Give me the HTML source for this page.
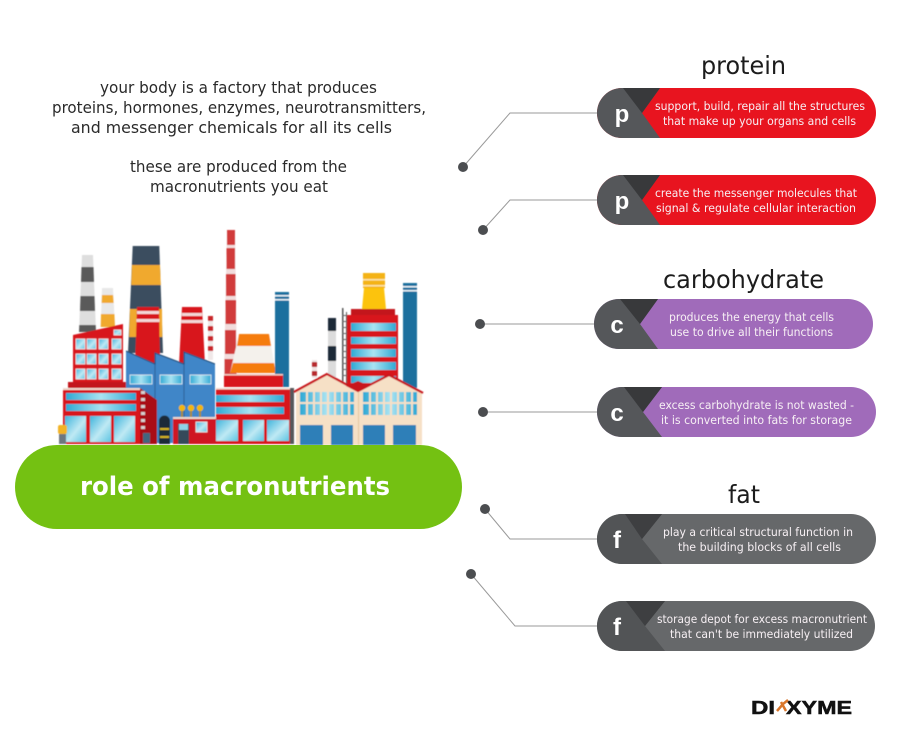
<!DOCTYPE html>
<html><head><meta charset="utf-8"><style>
html,body{margin:0;padding:0;background:#fff;width:900px;height:743px;overflow:hidden}
svg{display:block;font-family:"DejaVu Sans","Liberation Sans",sans-serif}
.h{font-size:16px;fill:#2a2a2a;text-anchor:start}
.t{font-size:11.5px;fill:#f7f0f4}
.l{font-family:"Liberation Sans",sans-serif;font-weight:bold;font-size:24px;fill:#fff}
.h2{font-size:25px;fill:#1c1c1c}
</style></head><body>
<svg width="900" height="743" viewBox="0 0 900 743" xmlns="http://www.w3.org/2000/svg">
<defs>
<linearGradient id="w" x1="0" y1="0" x2="1" y2="1"><stop offset="0" stop-color="#3fb4dc"/><stop offset=".55" stop-color="#bfe9f4"/><stop offset="1" stop-color="#5cc4e2"/></linearGradient>
<linearGradient id="s" x1="0" y1="0" x2="1" y2="0"><stop offset="0" stop-color="#2fa9d4"/><stop offset=".5" stop-color="#a9e3f2"/><stop offset="1" stop-color="#2fa9d4"/></linearGradient>
<filter id="b" x="-5%" y="-5%" width="110%" height="110%"><feGaussianBlur stdDeviation="0.4"/></filter>
</defs>

<!-- intro text -->
<text class="h" x="100" y="93" textLength="277" lengthAdjust="spacingAndGlyphs">your body is a factory that produces</text>
<text class="h" x="52" y="113" textLength="374" lengthAdjust="spacingAndGlyphs">proteins, hormones, enzymes, neurotransmitters,</text>
<text class="h" x="71" y="133" textLength="321" lengthAdjust="spacingAndGlyphs">and messenger chemicals for all its cells</text>
<text class="h" x="130" y="172" textLength="217" lengthAdjust="spacingAndGlyphs">these are produced from the</text>
<text class="h" x="150" y="192" textLength="178" lengthAdjust="spacingAndGlyphs">macronutrients you eat</text>

<!-- factory -->
<g filter="url(#b)">
<!-- gray chimney -->
<polygon points="82,255 93,255 96,332 79,332" fill="#dedede"/>
<polygon points="81.5,267 93.500,267 94,282 81,282" fill="#5a5a5a"/>
<polygon points="80.5,296 94.5,296 95,311 80,311" fill="#5a5a5a"/>
<polygon points="79.3,325 95.7,325 96,332 79,332" fill="#5a5a5a"/>
<!-- orange white chimney -->
<polygon points="102,288 113,288 115,327 100.7,327" fill="#e8e8e8"/>
<polygon points="102,295 113,295 113.6,303 101.700,303" fill="#f0a92e"/>
<polygon points="101,314 114.4,314 115,327 100.7,327" fill="#f0a92e"/>
<!-- big chimney -->
<polygon points="132.7,246 159.3,246 163,353 128,353" fill="#3a4d5f"/>
<polygon points="132,265 160,265 160.8,285 131.3,285" fill="#f0a92e"/>
<polygon points="130,309 162,309 162.3,337 129.2,337" fill="#f0a92e"/>
<!-- red chimneys -->
<polygon points="137,307 159,307 160,365 135,365" fill="#d8141f"/>
<rect x="137" y="311" width="22" height="3" fill="#f3d7d7"/><rect x="136.5" y="319" width="23" height="3" fill="#f3d7d7"/>
<polygon points="182,307 202,307 205,365 179,365" fill="#d8141f"/>
<rect x="182" y="313" width="20" height="3" fill="#f3d7d7"/><rect x="181.5" y="320" width="21" height="3" fill="#f3d7d7"/>
<rect x="208" y="316" width="5" height="44" fill="#f0e8e8"/>
<rect x="208" y="316" width="5" height="5" fill="#c9252c"/><rect x="208" y="326" width="5" height="5" fill="#c9252c"/><rect x="208" y="336" width="5" height="5" fill="#c9252c"/><rect x="208" y="346" width="5" height="5" fill="#c9252c"/>
<!-- tall red stack -->
<polygon points="227,230 235,230 237,375 224,375" fill="#f1dcdc"/>
<rect x="227" y="230" width="8" height="15" fill="#d13a3a"/><rect x="226.5" y="248" width="8.5" height="21" fill="#d13a3a"/><rect x="226" y="274" width="9.5" height="22" fill="#d13a3a"/><rect x="225.5" y="300" width="10.5" height="24" fill="#d13a3a"/><rect x="225" y="330" width="11" height="24" fill="#d13a3a"/><rect x="224.5" y="359" width="12" height="16" fill="#d13a3a"/>
<!-- orange cone -->
<polygon points="239,334 269,334 276,373 230,373" fill="#f4f1ec"/>
<polygon points="239,334 269,334 271,346 237,346" fill="#f57c0e"/>
<polygon points="233,363 274,363 276,373 230,373" fill="#f57c0e"/>
<!-- blue stack -->
<rect x="275" y="292" width="14" height="95" fill="#1f6f9e"/>
<rect x="275" y="295" width="14" height="1.5" fill="#e8f3f8"/><rect x="275" y="299" width="14" height="1.5" fill="#e8f3f8"/>
<!-- red top mid -->
<rect x="224" y="374" width="59" height="13" fill="#d8141f"/><rect x="224" y="374" width="59" height="1.5" fill="#f0c9c0"/>
<!-- left red building upper -->
<polygon points="73,335 123,324 123,383 73,383" fill="#d8141f"/>
<g fill="url(#w)" stroke="#f3eaea" stroke-width=".8">
<rect x="76" y="339" width="9" height="10"/><rect x="87" y="339" width="9" height="10"/><rect x="99" y="339" width="9" height="10"/><rect x="112" y="339" width="9" height="10"/>
<rect x="76" y="354" width="9" height="10"/><rect x="87" y="354" width="9" height="10"/><rect x="99" y="354" width="9" height="10"/><rect x="112" y="354" width="9" height="10"/>
<rect x="76" y="369" width="9" height="10"/><rect x="87" y="369" width="9" height="10"/><rect x="99" y="369" width="9" height="10"/><rect x="112" y="369" width="9" height="10"/>
<rect x="114" y="330" width="7" height="5"/>
</g>
<rect x="68" y="382" width="65" height="6" fill="#c3131c"/>
<!-- blue sawtooth -->
<polygon points="126,351 155,364 155,353 184,364 184,352 215,364 215,418 217,443 126,443" fill="#3f86c8"/>
<polyline points="126,351 155,364 155,353 184,364 184,352 215,364" fill="none" stroke="#234d78" stroke-width="1.2"/>
<line x1="155" y1="364" x2="155" y2="443" stroke="#2a5f94" stroke-width="1"/><line x1="184" y1="364" x2="184" y2="420" stroke="#2a5f94" stroke-width="1"/>
<g fill="url(#s)" stroke="#e7eef2" stroke-width=".8"><rect x="130" y="375" width="22" height="9"/><rect x="160" y="375" width="22" height="9"/><rect x="190" y="375" width="21" height="9"/></g>
<!-- lower red left -->
<rect x="63" y="388" width="77" height="56" fill="#d8141f"/>
<rect x="63" y="388" width="77" height="2" fill="#efd9cf"/>
<rect x="66" y="393" width="70" height="7" fill="url(#s)"/><rect x="66" y="404" width="70" height="7" fill="url(#s)"/>
<g fill="url(#w)"><rect x="65" y="416" width="21" height="26"/><rect x="90" y="416" width="21" height="26"/><rect x="114" y="416" width="21" height="26"/></g>
<polygon points="140,388 157,400 157,444 140,444" fill="#a90f17"/>
<g fill="#d7d0d0"><rect x="141" y="391" width="4" height="3"/><rect x="141" y="398" width="4" height="3"/><rect x="141" y="405" width="4" height="3"/><rect x="141" y="412" width="4" height="3"/><rect x="141" y="419" width="4" height="3"/><rect x="141" y="426" width="4" height="3"/></g>
<rect x="143" y="433" width="7" height="10" fill="#43667f"/>
<!-- silo -->
<path d="M159,444V421a5.500,5.500 0 0 1 11,0V444Z" fill="#1f2c38"/><rect x="160" y="428" width="9" height="2" fill="#d4b322"/><rect x="160" y="436" width="9" height="2" fill="#d4b322"/>
<!-- lamp -->
<rect x="58" y="425" width="9" height="9" rx="2" fill="#f2b325"/><rect x="59" y="434" width="7" height="10" fill="#6d7780"/>
<!-- small red building -->
<circle cx="182" cy="408" r="3.200" fill="#f2b70f"/><circle cx="191" cy="408" r="3.200" fill="#f2b70f"/><circle cx="200" cy="408" r="3.200" fill="#f2b70f"/>
<g fill="#a88a20"><rect x="181" y="411" width="2" height="7"/><rect x="190" y="411" width="2" height="7"/><rect x="199" y="411" width="2" height="7"/></g>
<rect x="173" y="418" width="44" height="26" fill="#cf1620"/><rect x="173" y="417" width="44" height="2" fill="#ead9d0"/>
<rect x="178" y="424" width="11" height="20" fill="#36485a"/><rect x="179" y="424" width="9" height="6" fill="#8fd2e8"/>
<rect x="196" y="422" width="11" height="10" fill="url(#w)" stroke="#eee" stroke-width=".8"/>
<!-- right red -->
<rect x="216" y="388" width="76" height="56" fill="#d8141f"/><rect x="216" y="388" width="76" height="1.500" fill="#efd9cf"/>
<rect x="216" y="395" width="68" height="7" fill="url(#s)"/><rect x="216" y="407" width="68" height="7" fill="url(#s)"/>
<g fill="url(#w)"><rect x="216" y="420" width="22" height="21"/><rect x="243" y="420" width="21" height="21"/><rect x="267" y="420" width="22" height="21"/></g>
<rect x="290" y="388" width="4" height="56" fill="#57595c"/>
<!-- tall right building -->
<rect x="403" y="283" width="14" height="105" fill="#1f6f9e"/>
<rect x="403" y="286" width="14" height="1.500" fill="#e8f3f8"/><rect x="403" y="290" width="14" height="1.500" fill="#e8f3f8"/>
<polygon points="363,273 385,273 385,288 363,288" fill="#f4b315"/><rect x="363" y="279" width="22" height="1.500" fill="#fbe6a6"/><rect x="363" y="285" width="22" height="1.500" fill="#fbe6a6"/>
<polygon points="364,288 384,288 386,309 362,309" fill="#fcc30b"/>
<rect x="351" y="309" width="44" height="6" fill="#c3131c"/>
<rect x="347" y="315" width="51" height="72" fill="#d8141f"/>
<g fill="url(#s)"><rect x="351" y="323" width="45" height="8"/><rect x="351" y="337" width="45" height="7"/><rect x="351" y="349" width="45" height="8"/><rect x="351" y="362" width="45" height="8"/><rect x="351" y="376" width="45" height="7"/></g>
<rect x="342" y="308" width="1.500" height="75" fill="#555"/><rect x="346" y="312" width="1" height="72" fill="#555"/>
<g fill="#666"><rect x="342" y="315" width="5" height="1"/><rect x="342" y="321" width="5" height="1"/><rect x="342" y="327" width="5" height="1"/><rect x="342" y="333" width="5" height="1"/><rect x="342" y="339" width="5" height="1"/><rect x="342" y="345" width="5" height="1"/><rect x="342" y="351" width="5" height="1"/><rect x="342" y="357" width="5" height="1"/><rect x="342" y="363" width="5" height="1"/><rect x="342" y="369" width="5" height="1"/><rect x="342" y="375" width="5" height="1"/></g>
<!-- dark chimney -->
<rect x="328" y="318" width="8" height="60" fill="#dcdcdc"/><rect x="328" y="318" width="8" height="13" fill="#1f2c38"/><rect x="328" y="346" width="8" height="15" fill="#1f2c38"/>
<rect x="312" y="360" width="5" height="18" fill="#efe3e3"/><rect x="312" y="362" width="5" height="5" fill="#b72a2f"/><rect x="312" y="371" width="5" height="5" fill="#b72a2f"/>
<!-- warehouses -->
<polygon points="296,391 327,375 358,391 389,376 422,393 422,445 296,445" fill="#f6e0c6"/>
<polyline points="294,392 327,374 358,391 389,375 423,393" fill="none" stroke="#c8141f" stroke-width="2.200"/>
<polygon points="346,386 358,392 370,386 358,381" fill="#c8141f"/>
<line x1="358.500" y1="392" x2="358.500" y2="445" stroke="#e4c7a0" stroke-width="1"/>
<rect x="300" y="392" width="54" height="10" fill="url(#s)"/><rect x="300" y="404" width="54" height="11" fill="url(#s)"/>
<rect x="363" y="392" width="54" height="10" fill="url(#s)"/><rect x="363" y="404" width="54" height="11" fill="url(#s)"/>
<g fill="#f6e0c6"><rect x="306" y="392" width="2" height="23"/><rect x="313" y="392" width="2" height="23"/><rect x="320" y="392" width="2" height="23"/><rect x="327" y="392" width="2" height="23"/><rect x="334" y="392" width="2" height="23"/><rect x="341" y="392" width="2" height="23"/><rect x="348" y="392" width="2" height="23"/>
<rect x="369" y="392" width="2" height="23"/><rect x="376" y="392" width="2" height="23"/><rect x="383" y="392" width="2" height="23"/><rect x="390" y="392" width="2" height="23"/><rect x="397" y="392" width="2" height="23"/><rect x="404" y="392" width="2" height="23"/><rect x="411" y="392" width="2" height="23"/></g>
<rect x="300" y="425" width="23" height="20" fill="#2f7fb8"/><rect x="331" y="425" width="22" height="20" fill="#2f7fb8"/><rect x="363" y="425" width="22" height="20" fill="#2f7fb8"/><rect x="393" y="425" width="23" height="20" fill="#2f7fb8"/>
</g>

<!-- green pill -->
<rect x="15" y="445" width="447" height="84" rx="42" fill="#74c112"/>
<text x="80" y="495" font-family="'DejaVu Sans',sans-serif" font-weight="bold" font-size="26" fill="#fff" textLength="310" lengthAdjust="spacingAndGlyphs">role of macronutrients</text>

<!-- connectors -->
<g fill="none" stroke="#999" stroke-width="1">
<polyline points="463,167 510,113 600,113"/>
<polyline points="483,230 510,200 600,200"/>
<polyline points="480,324 600,324"/>
<polyline points="483,412 600,412"/>
<polyline points="485,509 510,539 600,539"/>
<polyline points="471,574 515,626 600,626"/>
</g>
<g fill="#4b4d50">
<circle cx="463" cy="167" r="5"/><circle cx="483" cy="230" r="5"/><circle cx="480" cy="324" r="5"/><circle cx="483" cy="412" r="5"/><circle cx="485" cy="509" r="5"/><circle cx="471" cy="574" r="5"/>
</g>

<!-- headings -->
<text class="h2" x="701" y="74" textLength="85" lengthAdjust="spacingAndGlyphs">protein</text>
<text class="h2" x="663" y="288" textLength="161" lengthAdjust="spacingAndGlyphs">carbohydrate</text>
<text class="h2" x="728" y="503" textLength="32" lengthAdjust="spacingAndGlyphs">fat</text>

<!-- pill 1 -->
<rect x="597" y="88" width="279" height="50" rx="25" fill="#e8141f"/>
<path d="M660,88H622a25,25 0 0 0 0,50H660L642,113Z" fill="#55575a"/>
<polygon points="623,88 660,88 642,113" fill="#38393b"/>
<text class="l" x="622" y="122" text-anchor="middle">p</text>
<text class="t" x="655" y="110" textLength="210" lengthAdjust="spacingAndGlyphs">support, build, repair all the structures</text>
<text class="t" x="663" y="125" textLength="193" lengthAdjust="spacingAndGlyphs">that make up your organs and cells</text>
<!-- pill 2 -->
<rect x="597" y="175" width="279" height="50" rx="25" fill="#e8141f"/>
<path d="M660,175H622a25,25 0 0 0 0,50H660L642,200Z" fill="#55575a"/>
<polygon points="623,175 660,175 642,200" fill="#38393b"/>
<text class="l" x="622" y="209" text-anchor="middle">p</text>
<text class="t" x="655" y="197" textLength="202" lengthAdjust="spacingAndGlyphs">create the messenger molecules that</text>
<text class="t" x="656" y="212" textLength="200" lengthAdjust="spacingAndGlyphs">signal &amp; regulate cellular interaction</text>
<!-- pill 3 -->
<rect x="594" y="299" width="279" height="50" rx="25" fill="#a06bba"/>
<path d="M658,299H619a25,25 0 0 0 0,50H658L640,324Z" fill="#55575a"/>
<polygon points="620,299 658,299 640,324" fill="#38393b"/>
<text class="l" x="617" y="333" text-anchor="middle">c</text>
<text class="t" x="669" y="321" textLength="165" lengthAdjust="spacingAndGlyphs">produces the energy that cells</text>
<text class="t" x="670" y="336" textLength="163" lengthAdjust="spacingAndGlyphs">use to drive all their functions</text>
<!-- pill 4 -->
<rect x="597" y="387" width="279" height="50" rx="25" fill="#a06bba"/>
<path d="M662,387H622a25,25 0 0 0 0,50H662L643,412Z" fill="#55575a"/>
<polygon points="624,387 662,387 643,412" fill="#38393b"/>
<text class="l" x="617" y="421" text-anchor="middle">c</text>
<text class="t" x="659" y="409" textLength="195" lengthAdjust="spacingAndGlyphs">excess carbohydrate is not wasted -</text>
<text class="t" x="661" y="424" textLength="191" lengthAdjust="spacingAndGlyphs">it is converted into fats for storage</text>
<!-- pill 5 -->
<rect x="597" y="514" width="279" height="50" rx="25" fill="#66686a"/>
<path d="M662,514H622a25,25 0 0 0 0,50H662L642,539Z" fill="#525456"/>
<polygon points="625,514 662,514 642,539" fill="#3e3f41"/>
<text class="l" x="617" y="548" text-anchor="middle">f</text>
<text class="t" x="663" y="536" textLength="190" lengthAdjust="spacingAndGlyphs">play a critical structural function in</text>
<text class="t" x="678" y="551" textLength="163" lengthAdjust="spacingAndGlyphs">the building blocks of all cells</text>
<!-- pill 6 -->
<rect x="597" y="601" width="278" height="50" rx="25" fill="#66686a"/>
<path d="M665,601H622a25,25 0 0 0 0,50H665L645,626Z" fill="#525456"/>
<polygon points="626,601 665,601 645,626" fill="#3e3f41"/>
<text class="l" x="617" y="635" text-anchor="middle">f</text>
<text class="t" x="657" y="623" textLength="210" lengthAdjust="spacingAndGlyphs">storage depot for excess macronutrient</text>
<text class="t" x="670" y="638" textLength="183" lengthAdjust="spacingAndGlyphs">that can't be immediately utilized</text>

<!-- logo -->
<g font-family="'Liberation Sans',sans-serif" font-weight="bold" font-size="18" fill="#111">
<text x="751" y="714" textLength="24" lengthAdjust="spacingAndGlyphs" stroke="#111" stroke-width=".5">DI</text>
<text x="786" y="714" textLength="66" lengthAdjust="spacingAndGlyphs" stroke="#111" stroke-width=".5">XYME</text>
</g>
<g fill="none" stroke="#d9762b" stroke-width="2.500"><path d="M777,711L783,704L788,700"/><path d="M781,702L786,711"/></g>
</svg>
</body></html>
